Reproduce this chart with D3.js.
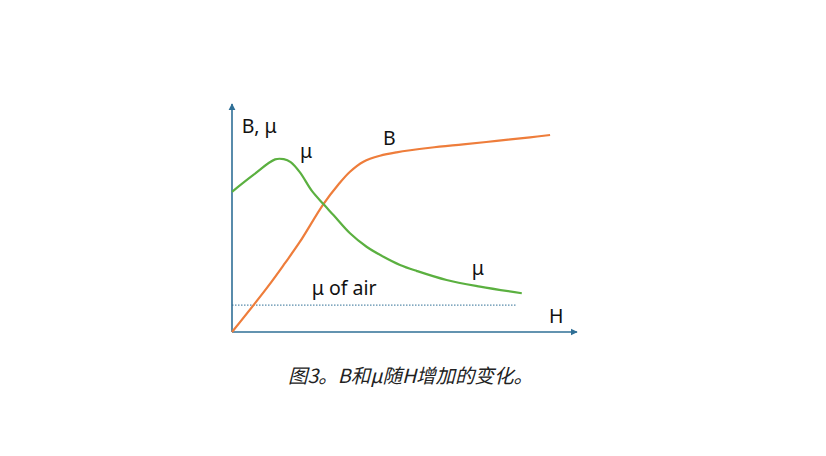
<!DOCTYPE html>
<html>
<head>
<meta charset="utf-8">
<script src="https://cdn.jsdelivr.net/npm/d3@7"></script>
<style>
  body { margin: 0; background: #fff; }
  svg { display: block; }
</style>
</head>
<body>
<script>
// H values and curve values (arbitrary units)
const muH = [0, 6.2, 12.5, 15.0, 17.0, 19.7, 23.1, 26.5, 29.4, 34.2, 39.0, 43.9, 48.7, 53.5, 62.2, 71.9, 84.0];
const muV = [61.5, 68.9, 75.7, 75.8, 74.5, 70.0, 62.0, 56.1, 51.3, 43.3, 37.4, 33.0, 29.4, 26.8, 22.8, 19.9, 17.0];
const bH = [0, 10.4, 15.4, 19.7, 26.5, 30.9, 34.2, 38.1, 42.9, 47.7, 57.4, 67.0, 76.7, 86.4, 92.2];
const bV = [0, 19.9, 30.3, 39.6, 56.1, 64.8, 70.3, 74.7, 77.3, 78.8, 80.8, 82.3, 83.8, 85.4, 86.4];
const airH = [0, 82.6];
const airV = [11.8, 11.8];

// labels
const labelText = ["B, μ", "μ", "B", "μ of air", "μ", "H"];
const labelH = [2.8, 19.7, 43.8, 23.1, 69.5, 91.9];
const labelV = [87.3, 76.3, 82.0, 16.2, 25.0, 3.8];
const caption = "图3。B和μ随H增加的变化。";

const width = 826, height = 456;
const axisColor = "#2f6f96";

const svg = d3.select("body").append("svg")
    .attr("width", width)
    .attr("height", height);

const x = d3.scaleLinear().domain([0, 100]).range([232, 577]);
const y = d3.scaleLinear().domain([0, 100]).range([332, 104]);

// arrow head
svg.append("defs").append("marker")
    .attr("id", "arrow")
    .attr("viewBox", "0 0 10 10")
    .attr("refX", 9).attr("refY", 5)
    .attr("markerWidth", 4.5).attr("markerHeight", 4.5)
    .attr("orient", "auto")
  .append("path")
    .attr("d", "M0,0L10,5L0,10z")
    .attr("fill", axisColor);

// axes without ticks, just the domain line
const gx = svg.append("g")
    .attr("transform", `translate(0,${y(0)})`)
    .call(d3.axisBottom(x).ticks(0).tickSizeOuter(0));
const gy = svg.append("g")
    .attr("transform", `translate(${x(0)},0)`)
    .call(d3.axisLeft(y).ticks(0).tickSizeOuter(0));

[gx, gy].forEach(g => {
    g.select(".domain")
        .attr("stroke", axisColor)
        .attr("stroke-width", 1.6)
        .attr("marker-end", "url(#arrow)");
});
// draw the domain from origin outwards so the arrow sits at the far end
gy.select(".domain").attr("d", `M0,${y(0)}V${y(100)}`);
gx.select(".domain").attr("d", `M${x(0)},0H${x(100)}`);

const line = d3.line()
    .x(d => x(d[0]))
    .y(d => y(d[1]))
    .curve(d3.curveCatmullRom.alpha(0.5));

// μ of air (dotted)
svg.append("path")
    .datum(d3.zip(airH, airV))
    .attr("d", d3.line().x(d => x(d[0])).y(d => y(d[1])))
    .attr("fill", "none")
    .attr("stroke", axisColor)
    .attr("stroke-width", 1)
    .attr("stroke-dasharray", "1.5,1.5");

// B curve
svg.append("path")
    .datum(d3.zip(bH, bV))
    .attr("d", line)
    .attr("fill", "none")
    .attr("stroke", "#ee7d3b")
    .attr("stroke-width", 2.2);

// μ curve
svg.append("path")
    .datum(d3.zip(muH, muV))
    .attr("d", line)
    .attr("fill", "none")
    .attr("stroke", "#5bb040")
    .attr("stroke-width", 2.2);

// labels
svg.selectAll("text.label")
    .data(d3.zip(labelText, labelH, labelV))
    .join("text")
    .attr("class", "label")
    .attr("x", d => x(d[1]))
    .attr("y", d => y(d[2]))
    .attr("font-family", "'Noto Sans', sans-serif")
    .attr("font-size", 19.5)
    .attr("fill", "#111")
    .text(d => d[0]);

// caption
svg.append("text")
    .attr("x", 288)
    .attr("y", 383)
    .attr("font-family", "'Noto Sans CJK SC', sans-serif")
    .attr("font-size", 19.5)
    .attr("font-style", "italic")
    .attr("fill", "#222")
    .text(caption);
</script>
</body>
</html>
